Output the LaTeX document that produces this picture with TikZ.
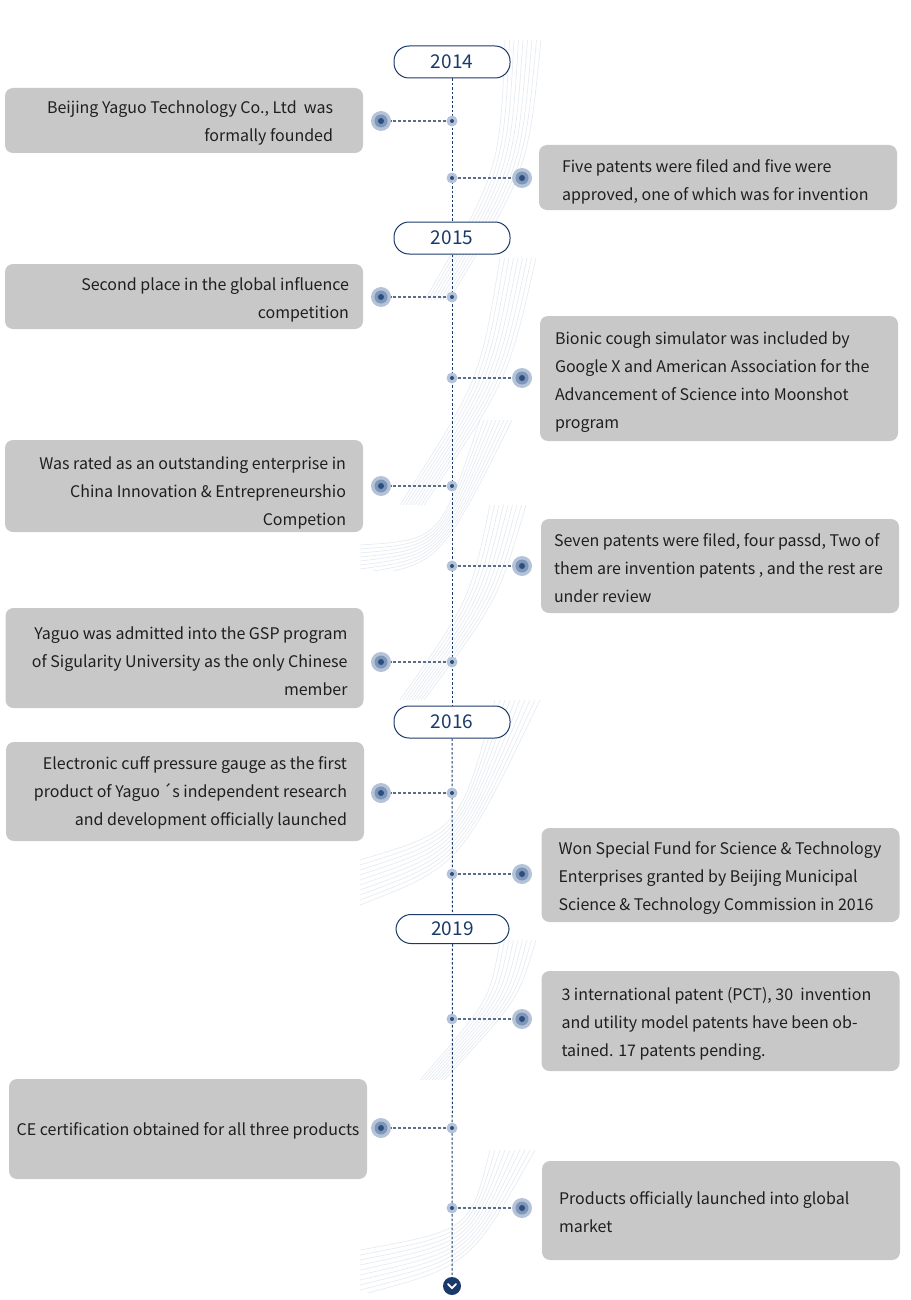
\documentclass[tikz,border=0pt]{standalone}
\usepackage{fontspec}
\setmainfont{Noto Sans CJK SC}
\definecolor{boxgray}{HTML}{C8C8C8}
\definecolor{navy}{HTML}{1B3A6B}
\definecolor{halo}{HTML}{B4C3D8}
\definecolor{halomid}{HTML}{7E96B8}
\definecolor{dotc}{HTML}{2E4D7E}
\definecolor{connc}{HTML}{5A6E8C}
\definecolor{fanc}{HTML}{E6EBF2}
\begin{document}
\begin{tikzpicture}[x=1pt,y=-1pt,
  box/.style={fill=boxgray, rounded corners=8pt, inner sep=0pt, minimum width=358pt},
  txt/.style={inner sep=0pt, font=\fontsize{16}{28}\selectfont, text=black!88},
  ltxt/.style={txt, align=right, anchor=east},
  rtxt/.style={txt, align=left, anchor=west},
  pill/.style={draw=navy, line width=1pt, fill=white, rounded corners=15pt,
    minimum width=116pt, minimum height=32pt, inner sep=0pt, text=navy,
    font=\fontsize{19}{22}\selectfont},
  smalldot/.style={circle, inner sep=0pt, minimum size=11pt, fill=halo,
    path picture={\fill[dotc] (path picture bounding box.center) circle (2pt);}},
  bigdot/.style={circle, inner sep=0pt, minimum size=20pt, fill=halo,
    path picture={\fill[halomid] (path picture bounding box.center) circle (6.5pt);
      \fill[dotc] (path picture bounding box.center) circle (3pt);}},
  conn/.style={draw=connc, line width=1.1pt, dash pattern=on 3pt off 2pt},
  spine/.style={draw=navy, line width=1pt, dash pattern=on 2.5pt off 2pt},
  fanline/.style={draw=fanc, line width=0.7pt}
]
\useasboundingbox (0,0) rectangle (910,1300);

% faint decorative fans
\newcommand\myfan[7]{%
  \begin{scope}
  \clip (360,#1) rectangle (546,#2);
  \foreach \i in {0,...,8} {
    \draw[fanline] (#3+\i*3,#4) .. controls (#5+\i*3.5,#6) .. (#7+\i*4.5,#1);
  }
  \end{scope}}
\myfan{40}{300}{425}{300}{500}{170}{505}
\myfan{258}{505}{400}{505}{480}{380}{500}
\begin{scope}
\clip (360,420) rectangle (546,570);
\foreach \i in {0,...,8} \draw[fanline] (360,545+\i*4) .. controls (440,540+\i*3) .. (480+\i*4,420);
\end{scope}
\myfan{505}{700}{400}{700}{470}{600}{490}
\begin{scope}
\clip (360,700) rectangle (546,910);
\foreach \i in {0,...,9} \draw[fanline] (360,860+\i*5) .. controls (460,830+\i*4) .. (495+\i*5,700);
\end{scope}
\myfan{940}{1080}{420}{1080}{490}{1000}{500}
\begin{scope}
\clip (360,1150) rectangle (546,1292);
\foreach \i in {0,...,9} \draw[fanline] (360,1250+\i*5) .. controls (470,1230+\i*4) .. (490+\i*5,1150);
\end{scope}

% year pills
\node[pill] (p2014) at (452,62) {2014};
\node[pill] (p2015) at (452,238) {2015};
\node[pill] (p2016) at (452,722) {2016};
\node[pill, minimum width=113pt, minimum height=29pt] (p2019) at (452.5,929) {2019};
\node[circle, fill=navy, inner sep=0pt, minimum size=18pt,
  path picture={\draw[white, line width=1.8pt, line cap=round, line join=round]
    ([shift={(-4pt,2pt)}]path picture bounding box.center) -- ([shift={(0pt,-2.2pt)}]path picture bounding box.center) -- ([shift={(4pt,2pt)}]path picture bounding box.center);}]
  (chev) at (452,1286) {};

\draw[spine] (p2014.south) -- (p2015.north);
\draw[spine] (p2015.south) -- (p2016.north);
\draw[spine] (p2016.south) -- (p2019.north);
\draw[spine] (p2019.south) -- (chev.north);

% left boxes
\node[box, minimum height=65pt] (l1) at (184,120.5) {};
\node[ltxt] (l1t) at ([xshift=-30pt, yshift=-2.5pt]l1.east) {Beijing Yaguo Technology Co., Ltd\ \ was\\formally founded};
\node[box, minimum height=65pt] (l2) at (184,296.5) {};
\node[ltxt] (l2t) at ([xshift=-14pt, yshift=-3.5pt]l2.east) {Second place in the global influence\\competition};
\node[box, minimum height=92pt] (l3) at (184,486) {};
\node[ltxt] (l3t) at ([xshift=-17pt, yshift=-6.5pt]l3.east) {Was rated as an outstanding enterprise in\\China Innovation \& Entrepreneurshio\\Competion};
\node[box, minimum height=100pt] (l4) at (184.5,658) {};
\node[ltxt] (l4t) at ([xshift=-16pt, yshift=-3.5pt]l4.east) {Yaguo was admitted into the GSP program\\of Sigularity University as the only Chinese\\member};
\node[box, minimum height=99pt] (l5) at (185,791.5) {};
\node[ltxt] (l5t) at ([xshift=-17pt, yshift=-1pt]l5.east) {Electronic cuff pressure gauge as the first\\product of Yaguo\,´s independent research\\and development officially launched};
\node[box, minimum height=100pt] (l6) at (188,1129) {};
\node[txt] (l6t) at ([yshift=-2pt]l6.center) {CE certification obtained for all three products};

% right boxes
\node[box, minimum height=65pt] (r1) at (718,177.5) {};
\node[rtxt] (r1t) at ([xshift=23pt, yshift=-4.5pt]r1.west) {Five patents were filed and five were\\approved, one of which was for invention};
\node[box, minimum height=125pt] (r2) at (719,378.5) {};
\node[rtxt] (r2t) at ([xshift=15pt, yshift=-3.5pt]r2.west) {Bionic cough simulator was included by\\Google X and American Association for the\\Advancement of Science into Moonshot\\program};
\node[box, minimum height=94pt] (r3) at (720,566) {};
\node[rtxt] (r3t) at ([xshift=13pt, yshift=-2.5pt]r3.west) {Seven patents were filed, four passd, Two of\\them are invention patents , and the rest are\\under review};
\node[box, minimum height=94pt] (r4) at (720.5,875) {};
\node[rtxt] (r4t) at ([xshift=17pt, yshift=-3.5pt]r4.west) {Won Special Fund for Science \& Technology\\Enterprises granted by Beijing Municipal\\Science \& Technology Commission in 2016};
\node[box, minimum height=100pt] (r5) at (720.5,1021) {};
\node[rtxt] (r5t) at ([xshift=20pt, yshift=-2.5pt]r5.west) {3 international patent (PCT), 30\ \ invention\\and utility model patents have been ob-\\tained. 17 patents pending.};
\node[box, minimum height=99pt] (r6) at (721,1210.5) {};
\node[rtxt] (r6t) at ([xshift=17pt, yshift=-1.5pt]r6.west) {Products officially launched into global\\market};

% dots and connectors, left
\foreach \n/\y in {1/121,2/297,3/486,4/662,5/793,6/1128} {
  \node[smalldot] (ls\n) at (452,\y) {};
  \node[bigdot] (lb\n) at (381,\y) {};
  \draw[conn] (ls\n) -- (lb\n);
}
% right
\foreach \n/\y in {1/178,2/378,3/566,4/874,5/1019,6/1208} {
  \node[smalldot] (rs\n) at (452,\y) {};
  \node[bigdot] (rb\n) at (522,\y) {};
  \draw[conn] (rs\n) -- (rb\n);
}
\end{tikzpicture}
\end{document}
